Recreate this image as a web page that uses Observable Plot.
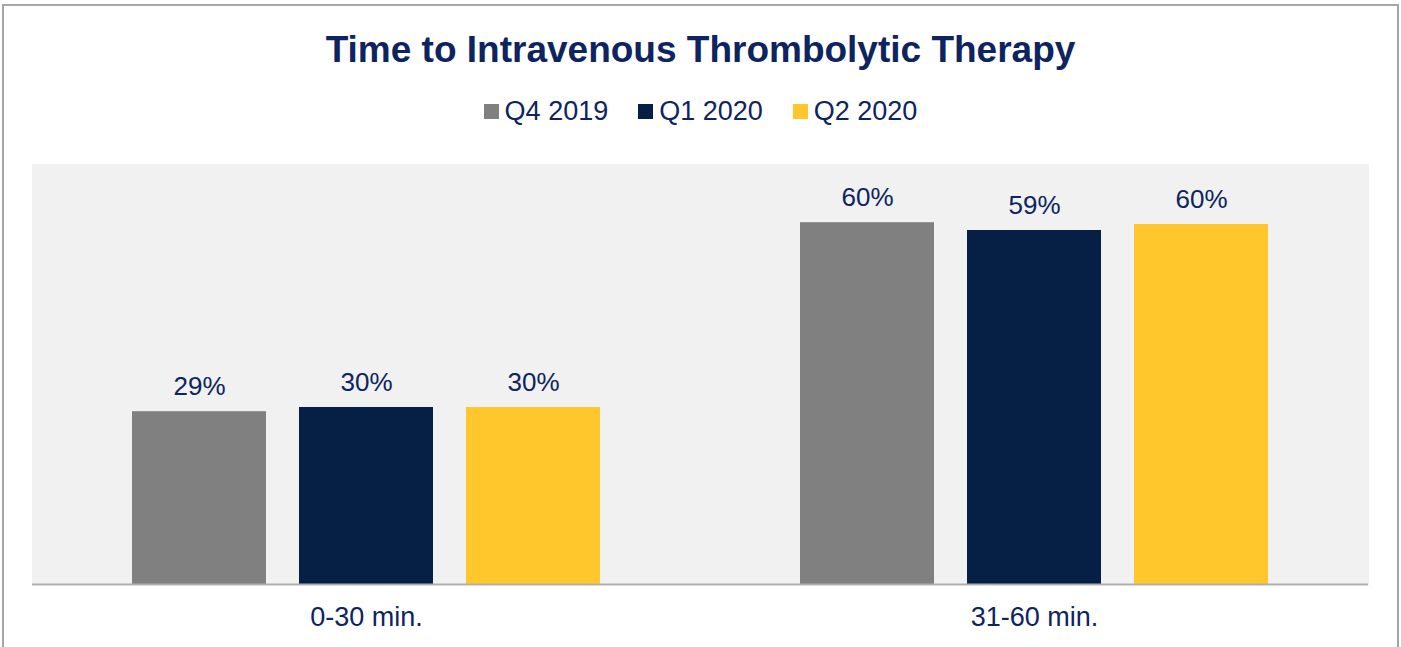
<!DOCTYPE html>
<html>
<head>
<meta charset="utf-8">
<script src="https://cdn.jsdelivr.net/npm/d3@7"></script>
<script src="https://cdn.jsdelivr.net/npm/@observablehq/plot@0.6"></script>
<style>
  html, body { margin: 0; padding: 0; background: #ffffff; }
  #wrap { position: relative; width: 1401px; height: 647px; overflow: hidden; font-family: "Liberation Sans", Arial, sans-serif; }
  #border { position: absolute; left: 2px; top: 4px; width: 1393px; height: 700px; border: 2px solid #a6a6a6; border-bottom: none; }
  #title { position: absolute; left: 0; width: 1401px; top: 31px; text-align: center; font-size: 37px; line-height: 1; font-weight: bold; color: #0d2461; }
  #legend { position: absolute; left: 0; width: 1401px; top: 98px; display: flex; justify-content: center; gap: 30px; font-size: 27px; line-height: 1; color: #0d2461; }
  .item { display: flex; align-items: center; gap: 6px; }
  .sw { width: 15px; height: 15px; display: inline-block; }
  #chart { position: absolute; left: 0; top: 140px; }
</style>
</head>
<body>
<div id="wrap">
  <div id="border"></div>
  <div id="title"></div>
  <div id="legend"></div>
  <div id="chart"></div>
</div>
<script>
const titleText = "Time to Intravenous Thrombolytic Therapy";
const categories = ["0-30 min.", "31-60 min."];
const quarters = ["Q4 2019", "Q1 2020", "Q2 2020"];
const q4_2019 = [28.8, 60.3];
const q1_2020 = [29.5, 59.0];
const q2_2020 = [29.5, 60.0];
const colors = ["#808080", "#061f44", "#ffc72c"];

const series = [q4_2019, q1_2020, q2_2020];
const data = categories.flatMap((c, i) =>
  quarters.map((q, j) => ({category: c, quarter: q, value: series[j][i]}))
);

document.getElementById("title").textContent = titleText;
const legend = document.getElementById("legend");
quarters.forEach((q, j) => {
  const item = document.createElement("div");
  item.className = "item";
  const sw = document.createElement("span");
  sw.className = "sw";
  sw.style.background = colors[j];
  const t = document.createElement("span");
  t.textContent = q;
  item.appendChild(sw);
  item.appendChild(t);
  legend.appendChild(item);
});

const chart = Plot.plot({
  width: 1401,
  height: 507,
  marginTop: 24,
  marginBottom: 63,
  marginLeft: 32,
  marginRight: 33,
  style: {fontFamily: "'Liberation Sans', Arial, sans-serif", fontSize: "27px", color: "#0d2461", background: "transparent", overflow: "visible"},
  fx: {domain: categories, padding: 0, label: null, axis: "bottom", tickSize: 0, tickPadding: 22},
  x: {domain: quarters, paddingInner: 0.2, paddingOuter: 0.6, axis: null},
  y: {domain: [0, 70], axis: null},
  color: {domain: quarters, range: colors},
  marks: [
    Plot.frame({fill: "#f1f1f1", stroke: "#f1f1f1", strokeWidth: 1}),
    Plot.barY(data, {fx: "category", x: "quarter", y: "value", fill: "quarter"}),
    Plot.ruleY([0], {stroke: "#b0b0b0", strokeWidth: 2}),
    Plot.text(data, {fx: "category", x: "quarter", y: "value", text: d => Math.round(d.value) + "%", lineAnchor: "bottom", dy: -17, fontSize: 26, fill: "#0d2461"})
  ]
});
document.getElementById("chart").appendChild(chart);
</script>
</body>
</html>
